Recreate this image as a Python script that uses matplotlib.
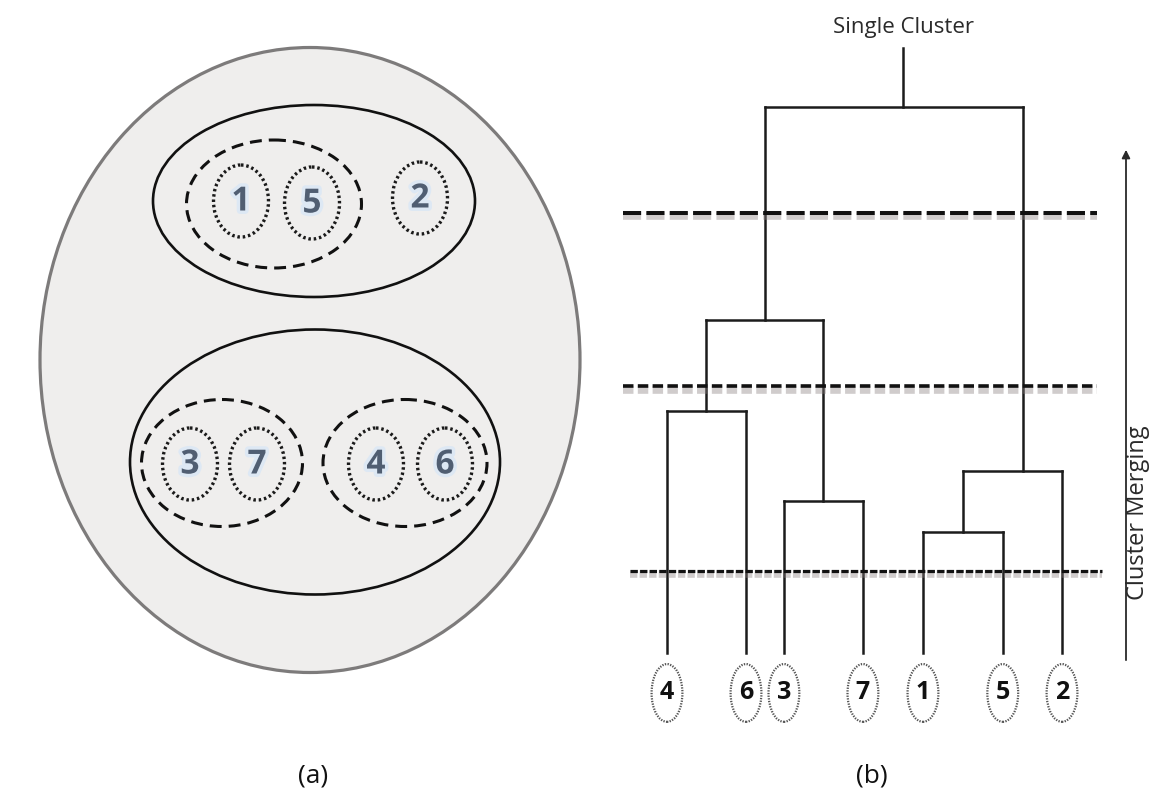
"""Agglomerative clustering: nested cluster view (a) and the matching dendrogram (b)."""

import matplotlib

matplotlib.use("Agg")
import matplotlib.pyplot as plt
import matplotlib.patheffects as pe
from matplotlib.patches import Ellipse

# ---- data -----------------------------------------------------------------
# panel (a): items grouped per level
points_top = ["1", "5", "2"]
points_bottom = ["3", "7", "4", "6"]

# panel (b): leaf order, relative leaf positions and merge heights
leaf_labels = ["4", "6", "3", "7", "1", "5", "2"]
leaf_pos = [0.0, 1.0, 1.48, 2.48, 3.24, 4.25, 5.0]
# merges: (left child, right child, height); children >= 7 refer to earlier merges
merges = [
    (4, 5, 2.2),    # 1 + 5
    (2, 3, 2.76),   # 3 + 7
    (7, 6, 3.31),   # (1,5) + 2
    (0, 1, 4.4),    # 4 + 6
    (10, 8, 6.05),  # (4,6) + (3,7)
    (11, 9, 9.93),  # root
]
# where the parent stem leaves each merge bar (0 = left child, 1 = right child)
stem_frac = [0.5, 0.5, 0.61, 0.5, 0.5, 0.535]
root_stem = 11.0
cut_levels = [8.0, 4.85, 1.5]

fig = plt.figure(figsize=(11.64, 7.98), dpi=100)

# ---- panel (a), drawn in pixel units ---------------------------------------
ax1 = fig.add_axes([0, 0, 1, 1])
ax1.set_xlim(0, 1164)
ax1.set_ylim(798, 0)
ax1.axis("off")

ax1.add_patch(Ellipse((310, 360), 540, 625, facecolor="#efeeed", edgecolor="#7d7b7b", lw=2.3))
ax1.add_patch(Ellipse((314, 201), 322, 192, facecolor="none", edgecolor="#111111", lw=1.9))
ax1.add_patch(Ellipse((315, 462), 370, 265, facecolor="none", edgecolor="#111111", lw=1.9))

dashed = (0, (3.9, 2.3))
ax1.add_patch(Ellipse((274, 204), 175, 128, facecolor="none", edgecolor="#111111", lw=2.2, ls=dashed))
ax1.add_patch(Ellipse((222, 463), 161, 127, facecolor="none", edgecolor="#111111", lw=2.2, ls=dashed))
ax1.add_patch(Ellipse((405, 463), 164, 127, facecolor="none", edgecolor="#111111", lw=2.2, ls=dashed))

dotted = (0, (0.75, 0.85))
digit_font = ["Liberation Sans Narrow", "Open Sans", "DejaVu Sans"]
glow = [pe.withStroke(linewidth=5, foreground="#dde8f4")]
top_xy = [(241, 201), (312, 203), (420, 198)]
bottom_xy = [(190, 464), (257, 464), (376, 464), (445, 464)]
for label, (x, y) in list(zip(points_top, top_xy)) + list(zip(points_bottom, bottom_xy)):
    ax1.add_patch(Ellipse((x, y), 55, 72, facecolor="none", edgecolor="#1a1a1a", lw=2.4, ls=dotted))
    ax1.text(x, y + 1, label, ha="center", va="center", fontsize=24, fontweight="bold",
             color="#505e72", family=digit_font, path_effects=glow)

ax1.text(313, 776, "(a)", ha="center", va="center", fontsize=19, family=["Open Sans", "DejaVu Sans"],
         color="#111111")
ax1.text(872, 776, "(b)", ha="center", va="center", fontsize=19, family=["Open Sans", "DejaVu Sans"],
         color="#111111")

# ---- panel (b): dendrogram ---------------------------------------------------
ax2 = fig.add_axes([600 / 1164, 0, 564 / 1164, 1])
ax2.set_xlim(-0.848, 6.291)
ax2.set_ylim(-2.636, 11.873)
ax2.axis("off")
ax2.patch.set_alpha(0)

node_x = list(leaf_pos)
node_h = [0.0] * len(leaf_pos)
line_kw = dict(color="#1c1c1c", lw=1.8, solid_capstyle="projecting")
for (left, right, h), frac in zip(merges, stem_frac):
    for child in (left, right):
        ax2.plot([node_x[child], node_x[child]], [node_h[child], h], **line_kw)
    ax2.plot([node_x[left], node_x[right]], [h, h], **line_kw)
    node_x.append(node_x[left] + frac * (node_x[right] - node_x[left]))
    node_h.append(h)
ax2.plot([node_x[-1], node_x[-1]], [node_h[-1], root_stem], **line_kw)

cut_styles = [
    dict(lw=2.9, ls=(0, (4.5, 1.3)), x0=-0.557, x1=5.44),
    dict(lw=2.6, ls=(0, (2.9, 1.2)), x0=-0.557, x1=5.44),
    dict(lw=2.3, ls=(0, (2.3, 0.7)), x0=-0.468, x1=5.51),
]
shadow = [pe.SimpleLineShadow(offset=(0, -2.5), shadow_color="#8a8080", alpha=0.4, linewidth=5.5),
          pe.Normal()]
for level, st in zip(cut_levels, cut_styles):
    ax2.plot([st["x0"], st["x1"]], [level, level], color="#111111", lw=st["lw"], ls=st["ls"],
             path_effects=shadow, zorder=3)

for label, x in zip(leaf_labels, leaf_pos):
    ax2.add_patch(Ellipse((x, -0.727), 0.39, 1.05, facecolor="none", edgecolor="#555555",
                          lw=1.6, ls=(0, (0.6, 0.6))))
    ax2.text(x, -0.71, label, ha="center", va="center", fontsize=18, fontweight="bold",
             color="#111111", family=digit_font)

ax2.text(node_x[-1], 11.38, "Single Cluster", ha="center", va="center", fontsize=16,
         family=digit_font, color="#2a2a2a")

ax2.annotate("", xy=(5.81, 9.2), xytext=(5.81, -0.18),
             arrowprops=dict(arrowstyle="-|>", color="#2a2a2a", lw=1.3, mutation_scale=12))
ax2.text(5.96, 2.55, "Cluster Merging", rotation=90, ha="center", va="center", fontsize=17,
         family=["Open Sans", "DejaVu Sans"], color="#2a2a2a")

fig.savefig("out.png", dpi=100)
